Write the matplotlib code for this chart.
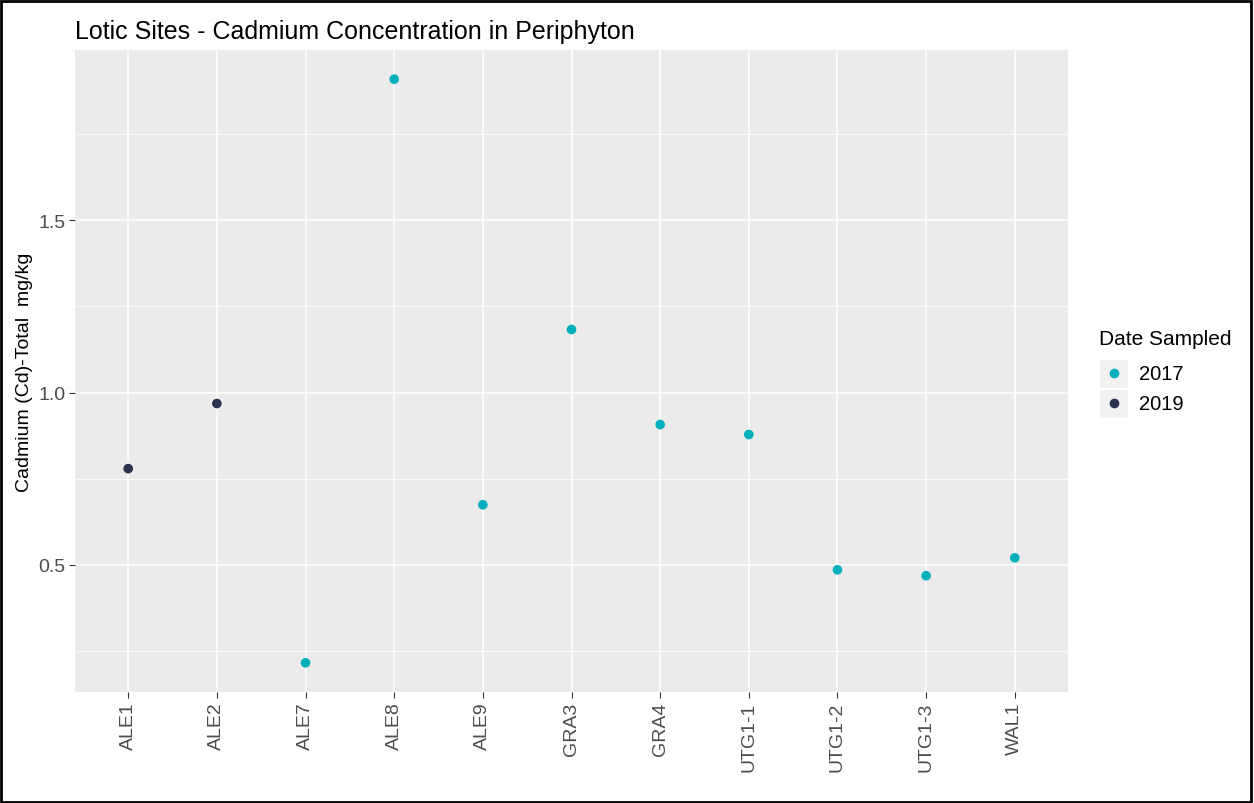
import matplotlib.pyplot as plt
from matplotlib.patches import Rectangle

plt.rcParams['font.family'] = ['Liberation Sans', 'DejaVu Sans']

sites = ["ALE1", "ALE2", "ALE7", "ALE8", "ALE9", "GRA3", "GRA4",
         "UTG1-1", "UTG1-2", "UTG1-3", "WAL1"]
cadmium = [0.779, 0.968, 0.215, 1.910, 0.674, 1.183, 0.907,
           0.878, 0.485, 0.468, 0.520]
year = ["2019", "2019", "2017", "2017", "2017", "2017", "2017",
        "2017", "2017", "2017", "2017"]
years = ["2017", "2019"]
colours = {"2017": "#00AFBB", "2019": "#2B3250"}

W, H = 1254, 804
fig = plt.figure(figsize=(W / 100, H / 100), dpi=100)
ax = fig.add_axes([75 / W, 1 - 693 / H, (1068 - 75) / W, (693 - 51) / H])

xs = list(range(len(sites)))
ax.scatter(xs, cadmium, c=[colours[y] for y in year], s=48, zorder=3,
           edgecolors='none')

ax.set_facecolor('#EBEBEB')
ax.set_xlim(-0.6, len(sites) - 0.4)
lo, hi = min(cadmium), max(cadmium)
pad = (hi - lo) * 0.05
ax.set_ylim(lo - pad, hi + pad)

ax.set_xticks(xs)
ax.set_xticklabels(sites, rotation=90)
ax.set_yticks([0.5, 1.0, 1.5])
ax.set_yticks([0.25, 0.75, 1.25, 1.75], minor=True)
ax.grid(True, which='major', color='white', linewidth=1.1)
ax.grid(True, which='minor', axis='y', color='white', linewidth=0.55)
ax.set_axisbelow(True)
for s in ax.spines.values():
    s.set_visible(False)
ax.tick_params(axis='both', which='major', colors='#333333', labelcolor='#4D4D4D',
               labelsize=14, length=4, width=0.8, pad=3)
ax.tick_params(axis='y', which='minor', length=0)

ax.set_ylabel("Cadmium (Cd)-Total  mg/kg", fontsize=14, color='black', labelpad=4)
ax.set_title("Lotic Sites - Cadmium Concentration in Periphyton", loc='left',
             fontsize=18, pad=9)

# legend drawn by hand in the ggplot manner (grey key boxes)
fig.text(1099 / W, 1 - 340 / H, "Date Sampled", fontsize=15, va='center', ha='left')
for i, y in enumerate(years):
    top = 359 + i * 30
    fig.patches.append(Rectangle((1099 / W, 1 - (top + 30) / H), 29 / W, 29 / H,
                                 transform=fig.transFigure, facecolor='#F2F2F2',
                                 edgecolor='white', linewidth=1))
    fig.lines.append(plt.Line2D([1113.5 / W], [1 - (top + 15) / H], marker='o',
                                markersize=7, markerfacecolor=colours[y],
                                markeredgecolor='none', linestyle='none',
                                transform=fig.transFigure))
    fig.text(1139 / W, 1 - (top + 16) / H, y, fontsize=14.5, va='center', ha='left')

fig.patches.append(Rectangle((0.001, 0.001), 0.997, 0.997, transform=fig.transFigure,
                             fill=False, edgecolor='black', linewidth=2))

fig.savefig("out.png", dpi=100)
